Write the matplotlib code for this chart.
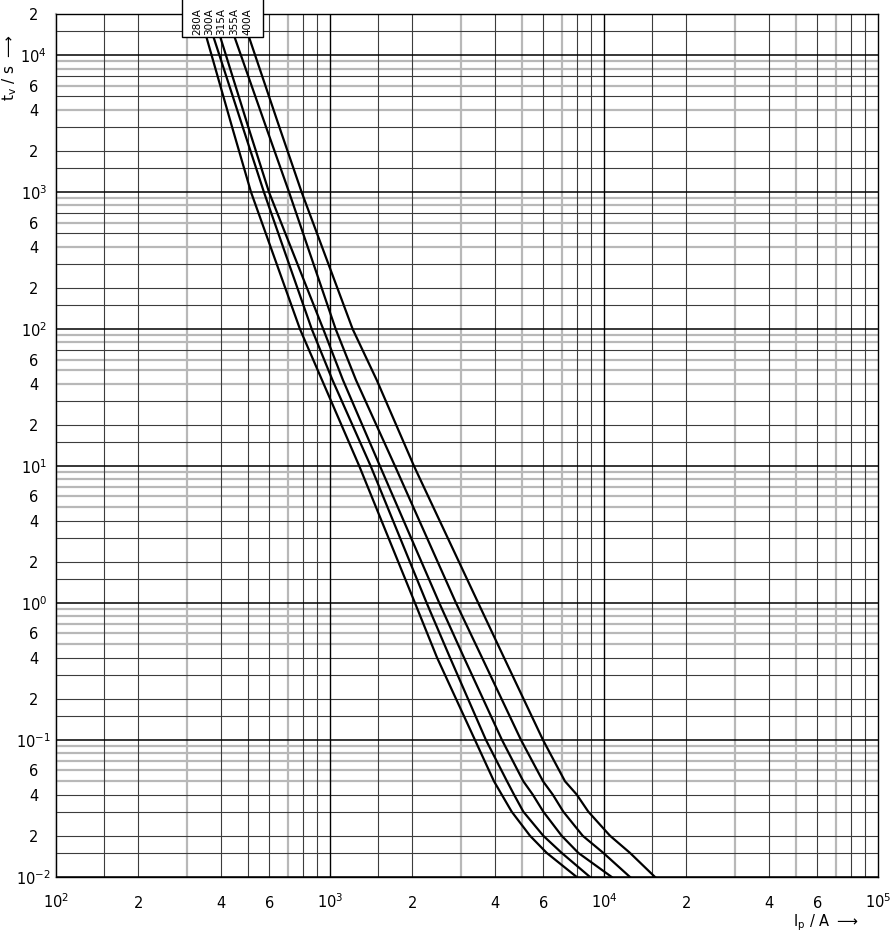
import matplotlib.pyplot as plt
from matplotlib.patches import Rectangle

# fuse time-current curves
ratings = ["280A", "300A", "315A", "355A", "400A"]
t_vs = [13300, 3000, 1000, 100, 42.5, 10, 1, 0.4, 0.1, 0.05, 0.04, 0.03, 0.02, 0.015, 0.01]

i_280 = [355, 439, 515, 777, 935, 1279, 2043, 2458, 3382, 3967, 4233, 4603, 5370, 6178, 7951]
i_300 = [377, 480, 574, 858, 1021, 1408, 2254, 2741, 3709, 4426, 4693, 5076, 6004, 7007, 8890]
i_315 = [399, 503, 599, 945, 1115, 1522, 2506, 3083, 4244, 5076, 5494, 6004, 7007, 8058, 10670]
i_355 = [450, 584, 709, 1049, 1244, 1727, 2884, 3587, 4979, 5990, 6500, 7103, 8362, 9941, 12440]
i_400 = [508, 653, 788, 1210, 1481, 2026, 3477, 4315, 5990, 7205, 7951, 8764, 10520, 12440, 15350]

currents = [i_280, i_300, i_315, i_355, i_400]

# which sub-decade lines are printed light grey on the sheet
minors = [1.5, 2, 3, 4, 5, 6, 7, 8, 9]
x_gray = {2: [3, 7], 3: [3, 5, 7], 4: [3, 5, 7]}
y_gray = {-2: [5, 6, 7, 8, 9], -1: [5, 6, 7, 8, 9], 0: [5, 6, 7, 8, 9],
          1: [4, 5, 6, 8, 9], 2: [4, 6, 8, 9], 3: [4, 6, 8, 9], 4: []}

fig = plt.figure(figsize=(8.94, 9.35), dpi=100)
ax = fig.add_axes([56 / 894, 58 / 935, 822 / 894, 863 / 935])
ax.set_xscale("log")
ax.set_yscale("log")
ax.set_xlim(1e2, 1e5)
ax.set_ylim(1e-2, 2e4)

gray = "#b8b8b8"
dark = "#3c3c3c"

# grid
for d, grays in x_gray.items():
    for m in minors:
        if m in grays:
            ax.axvline(m * 10**d, color=gray, lw=1.6, zorder=1)
        else:
            ax.axvline(m * 10**d, color=dark, lw=0.8, zorder=2)
    ax.axvline(10**d, color="black", lw=1.0, zorder=3)

for d, grays in y_gray.items():
    for m in minors:
        if m * 10**d >= 2e4:
            continue
        if m in grays:
            ax.axhline(m * 10**d, color=gray, lw=1.6, zorder=1)
        else:
            ax.axhline(m * 10**d, color=dark, lw=0.8, zorder=2)
    ax.axhline(10**d, color="black", lw=1.1, zorder=3)

for cur in currents:
    ax.plot(cur, t_vs, color="black", lw=1.6, zorder=4, solid_joinstyle="round")

for side in ["top", "right", "bottom"]:
    ax.spines[side].set_color("black")
    ax.spines[side].set_linewidth(1.0)
ax.spines["left"].set_color(gray)
ax.spines["left"].set_linewidth(1.6)

# tick labels
xt, xl = [], []
for d in [2, 3, 4]:
    xt += [10**d, 2 * 10**d, 4 * 10**d, 6 * 10**d]
    xl += [r"$10^{%d}$" % d, "2", "4", "6"]
xt.append(1e5)
xl.append(r"$10^{5}$")
ax.set_xticks(xt, xl)

yt, yl = [2e4], ["2"]
for d in [4, 3, 2, 1, 0, -1]:
    yt += [10**d, 6 * 10**(d - 1), 4 * 10**(d - 1), 2 * 10**(d - 1)]
    yl += [r"$10^{%d}$" % d, "6", "4", "2"]
yt.append(1e-2)
yl.append(r"$10^{-2}$")
ax.set_yticks(yt, yl)
ax.minorticks_off()

ax.tick_params(axis="both", length=0, labelsize=10.5)
ax.tick_params(axis="x", pad=22)
ax.tick_params(axis="y", pad=16)
for lab in ax.get_yticklabels():
    lab.set_horizontalalignment("center")
for lab in ax.get_xticklabels():
    lab.set_verticalalignment("baseline")

fig.text(10 / 894, 1 - 68 / 935, r"$\mathrm{t_v}$ / s $\longrightarrow$",
         rotation=90, ha="center", va="center", fontsize=11)
fig.text(826 / 894, 1 - 923 / 935, r"$\mathrm{I_p}$ / A $\longrightarrow$",
         ha="center", va="center", fontsize=10.5)

# rating box over the top of the grid
box = Rectangle((182 / 894, 1 - 37 / 935), 81 / 894, 40 / 935,
                transform=fig.transFigure, facecolor="white",
                edgecolor="black", lw=1.0, zorder=10)
fig.add_artist(box)
for xc, name in zip([197, 209, 221, 234, 247], ratings):
    fig.text(xc / 894, 1 - 35 / 935, name, rotation=90, ha="center",
             va="bottom", fontsize=7.5, zorder=11,
             bbox=dict(boxstyle="square,pad=0", fc="none", ec="none"))

fig.savefig("out.png", dpi=100)
